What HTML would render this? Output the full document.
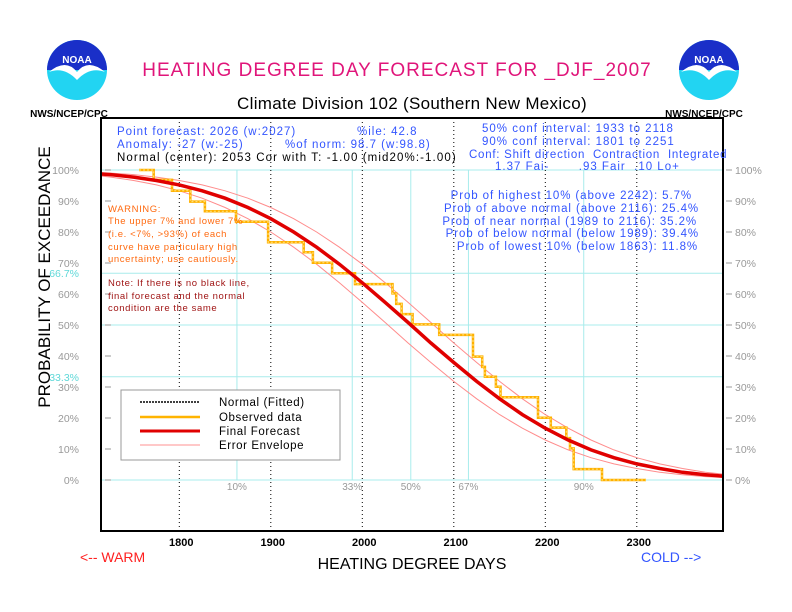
<!DOCTYPE html>
<html><head><meta charset="utf-8"><style>
body{margin:0;background:#fff}
svg{display:block;font-family:"Liberation Sans",sans-serif}
</style></head><body>
<svg id="c" width="792" height="612" viewBox="0 0 792 612" xmlns="http://www.w3.org/2000/svg">
<rect width="792" height="612" fill="#fff"/>
<g>
 <circle cx="77" cy="70" r="30" fill="#22d4f2"/>
 <path d="M47,70 A30,30 0 0 1 107,70 Z" fill="#1a2fc8"/>
 <path d="M49,72 Q66,58 77,72 Q88,58 105,72 Q90,66 77,80 Q64,66 49,72 Z" fill="#fff"/>
 <text x="77" y="63" font-size="10" font-weight="bold" fill="#fff" text-anchor="middle">NOAA</text>
</g>
<g>
 <circle cx="709" cy="70" r="30" fill="#22d4f2"/>
 <path d="M679,70 A30,30 0 0 1 739,70 Z" fill="#1a2fc8"/>
 <path d="M681,72 Q698,58 709,72 Q720,58 737,72 Q722,66 709,80 Q696,66 681,72 Z" fill="#fff"/>
 <text x="709" y="63" font-size="10" font-weight="bold" fill="#fff" text-anchor="middle">NOAA</text>
</g>
<text x="69" y="117" font-size="10" font-weight="bold" text-anchor="middle">NWS/NCEP/CPC</text>
<text x="704" y="117" font-size="10" font-weight="bold" text-anchor="middle">NWS/NCEP/CPC</text>
<text x="397" y="76" font-size="19" fill="#e0157a" text-anchor="middle" letter-spacing="1">HEATING DEGREE DAY FORECAST FOR _DJF_2007</text>
<text x="412" y="109" font-size="17" text-anchor="middle" letter-spacing="0.3">Climate Division 102 (Southern New Mexico)</text>
<g id="grid"></g>
<g id="marks"></g>
<rect x="101" y="118" width="622" height="413" fill="none" stroke="#000" stroke-width="2"/>
<g font-size="11.5" fill="#3355ff" letter-spacing="1">
 <text x="117" y="135">Point forecast: 2026 (w:2027)</text>
 <text x="357" y="135">%ile: 42.8</text>
 <text x="117" y="148">Anomaly: -27 (w:-25)</text>
 <text x="285" y="148">%of norm:  98.7 (w:98.8)</text>
 <text x="117" y="161" fill="#000" letter-spacing="1.1">Normal (center): 2053 Cor with T: -1.00 (mid20%:-1.00)</text>
 <text x="482" y="132">50% conf interval: 1933 to 2118</text>
 <text x="482" y="145">90% conf interval: 1801 to 2251</text>
 <text x="469" y="158" letter-spacing="0.75" xml:space="preserve">Conf: Shift direction  Contraction  Integrated</text>
 <text x="495" y="170" xml:space="preserve">1.37 Fai-       .93 Fair  .10 Lo+</text>
</g>
<g font-size="11.5" fill="#3355ff" text-anchor="end" letter-spacing="0.9">
 <text x="692" y="199">Prob of highest 10% (above 2242): 5.7%</text>
 <text x="699" y="212">Prob of above normal (above 2116): 25.4%</text>
 <text x="697" y="225">Prob of near normal (1989 to 2116): 35.2%</text>
 <text x="699" y="237">Prob of below normal (below 1989): 39.4%</text>
 <text x="698" y="250">Prob of lowest 10% (below 1863): 11.8%</text>
</g>
<g font-size="9.5" fill="#ff6a10" letter-spacing="0.6">
 <text x="108" y="212">WARNING:</text>
 <text x="108" y="224">The upper 7% and lower 7%</text>
 <text x="108" y="237">(i.e. &lt;7%, &gt;93%) of each</text>
 <text x="108" y="250">curve have particulary high</text>
 <text x="108" y="262">uncertainty; use cautiously.</text>
</g>
<g font-size="9.5" fill="#a01515" letter-spacing="0.6">
 <text x="108" y="286">Note: If there is no black line,</text>
 <text x="108" y="299">final forecast and  the normal</text>
 <text x="108" y="311">condition are the same</text>
</g>
<g>
 <rect x="121" y="390" width="219" height="70" fill="#fff" stroke="#999"/>
 <line x1="140" y1="402" x2="200" y2="402" stroke="#000" stroke-width="1.5" stroke-dasharray="2,1"/>
 <line x1="140" y1="417" x2="200" y2="417" stroke="#ffb400" stroke-width="2.5"/>
 <line x1="140" y1="431" x2="200" y2="431" stroke="#e00000" stroke-width="3"/>
 <line x1="140" y1="445" x2="200" y2="445" stroke="#ff9090" stroke-width="1"/>
 <g font-size="11.5" letter-spacing="0.6"><text x="219" y="406">Normal (Fitted)</text><text x="219" y="421">Observed data</text><text x="219" y="435">Final Forecast</text><text x="219" y="449">Error Envelope</text></g>
</g>
<text x="50" y="277" font-size="17" text-anchor="middle" transform="rotate(-90 50 277)">PROBABILITY OF EXCEEDANCE</text>
<text x="412" y="569" font-size="16" text-anchor="middle">HEATING DEGREE DAYS</text>
<text x="80" y="562" font-size="14" fill="#ff2020">&lt;--  WARM</text>
<text x="641" y="562" font-size="14" fill="#3355ff">COLD  --&gt;</text>
</svg>
<script>
const xTicks=[1800,1900,2000,2100,2200,2300];
const yTicks=[0,10,20,30,40,50,60,70,80,90,100];
const pctLabels=["10%","33%","50%","67%","90%"];
const pctValues=[1863,1989,2053,2116,2242];
const hLines=[0,33.3,50,66.7,100];
const curveX=[1700,1725,1750,1775,1800,1825,1850,1875,1900,1925,1950,1975,2000,2025,2050,2075,2100,2125,2150,2175,2200,2225,2250,2275,2300,2325,2350,2375,2400];
const forecastP=[99.0,98.5,97.7,96.6,95.2,93.3,90.9,87.9,84.3,80.0,75.1,69.6,63.6,57.3,50.8,44.2,37.9,31.8,26.2,21.1,16.7,12.9,9.7,7.2,5.2,3.7,2.5,1.7,1.1];
const envUpperP=[99.4,99.0,98.5,97.7,96.6,95.2,93.3,90.9,87.9,84.3,80.0,75.1,69.6,63.6,57.3,50.8,44.2,37.9,31.8,26.2,21.1,16.7,12.9,9.7,7.2,5.2,3.7,2.5,1.7];
const envLowerP=[98.5,97.7,96.6,95.2,93.3,90.9,87.9,84.3,80.0,75.1,69.6,63.6,57.3,50.8,44.2,37.9,31.8,26.2,21.1,16.7,12.9,9.7,7.2,5.2,3.7,2.5,1.7,1.1,0.7];
const obsX=[1756,1772,1792,1812,1828,1862,1897,1936,1946,1967,1992,2033,2037,2043,2055,2084,2121,2131,2134,2146,2151,2192,2206,2223,2227,2231,2262,2310];
const obsP=[100,96.8,93.3,89.8,86.7,83.3,76.7,73.5,70.1,66.7,63.2,60.2,56.8,53.5,50.2,46.8,39.8,36.5,33.3,30.1,26.7,20.1,16.9,13.5,10.2,3.5,0,0];
const NS="http://www.w3.org/2000/svg";
const X=v=>179.3+(v-1800)*0.915;
const Y=p=>480-p*3.1;
const L=101,R=723,T=118,B=531;
function mk(t,a,parent){const e=document.createElementNS(NS,t);for(const k in a)e.setAttribute(k,a[k]);parent.appendChild(e);return e;}
const g=document.getElementById('grid'),m=document.getElementById('marks');
hLines.forEach(p=>{const e=mk('line',{x1:L,x2:R,y1:Y(p),y2:Y(p),stroke:'#a8ecec','stroke-width':1},g);

});
pctValues.forEach((v,i)=>{const e=mk('line',{x1:X(v),x2:X(v),y1:Y(100),y2:Y(0),stroke:'#a8ecec','stroke-width':1},g);


const t=mk('text',{x:X(v),y:490,'font-size':10,fill:'#999','text-anchor':'middle'},g);t.textContent=pctLabels[i];

});
xTicks.forEach(v=>{const e=mk('line',{x1:X(v),x2:X(v),y1:T,y2:B,stroke:'#000','stroke-width':1,'stroke-dasharray':'1,3'},g);


const t=mk('text',{x:X(v)+2,y:546,'font-size':11,'font-weight':'bold','text-anchor':'middle'},g);t.textContent=v;

});
yTicks.forEach(p=>{
mk('line',{x1:105,x2:111,y1:Y(p),y2:Y(p),stroke:'#999'},g);
mk('line',{x1:726,x2:732,y1:Y(p),y2:Y(p),stroke:'#999'},g);
const t=mk('text',{x:79,y:Y(p)+4,'font-size':10.5,fill:'#999','text-anchor':'end'},g);t.textContent=p+'%';


const t2=mk('text',{x:735,y:Y(p)+4,'font-size':10.5,fill:'#999'},g);t2.textContent=p+'%';

});
[66.7,33.3].forEach(p=>{const t=mk('text',{x:79,y:Y(p)+4,'font-size':10.5,fill:'#5fd8d8','text-anchor':'end'},g);t.textContent=p+'%';

});
const cp=mk('clipPath',{id:'clip'},m);mk('rect',{x:L,y:T,width:R-L,height:B-T},cp);
const cg=mk('g',{'clip-path':'url(#clip)'},m);
function line(ps,attrs,name){const d=curveX.map((v,i)=>(i?'L':'M')+X(v).toFixed(1)+','+Y(ps[i]).toFixed(1)).join('');
const e=mk('path',Object.assign({d:d,fill:'none'},attrs),cg);

}
line(envUpperP,{stroke:'#ff8c8c','stroke-width':1},'error-envelope-upper');
line(envLowerP,{stroke:'#ff8c8c','stroke-width':1},'error-envelope-lower');
let d='M'+X(obsX[0])+','+Y(obsP[0]);
for(let i=1;i<obsX.length;i++){d+='L'+X(obsX[i]).toFixed(1)+','+Y(obsP[i-1]).toFixed(1)+'L'+X(obsX[i]).toFixed(1)+','+Y(obsP[i]).toFixed(1);}
const o=mk('path',{d:d,fill:'none',stroke:'#ffb000','stroke-width':2.5},cg);


mk('path',{d:d,fill:'none',stroke:'#ffe680','stroke-width':1,'stroke-dasharray':'2,2'},cg);
line(forecastP,{stroke:'#e00000','stroke-width':3.5},'final-forecast-curve');
</script>
</body></html>
